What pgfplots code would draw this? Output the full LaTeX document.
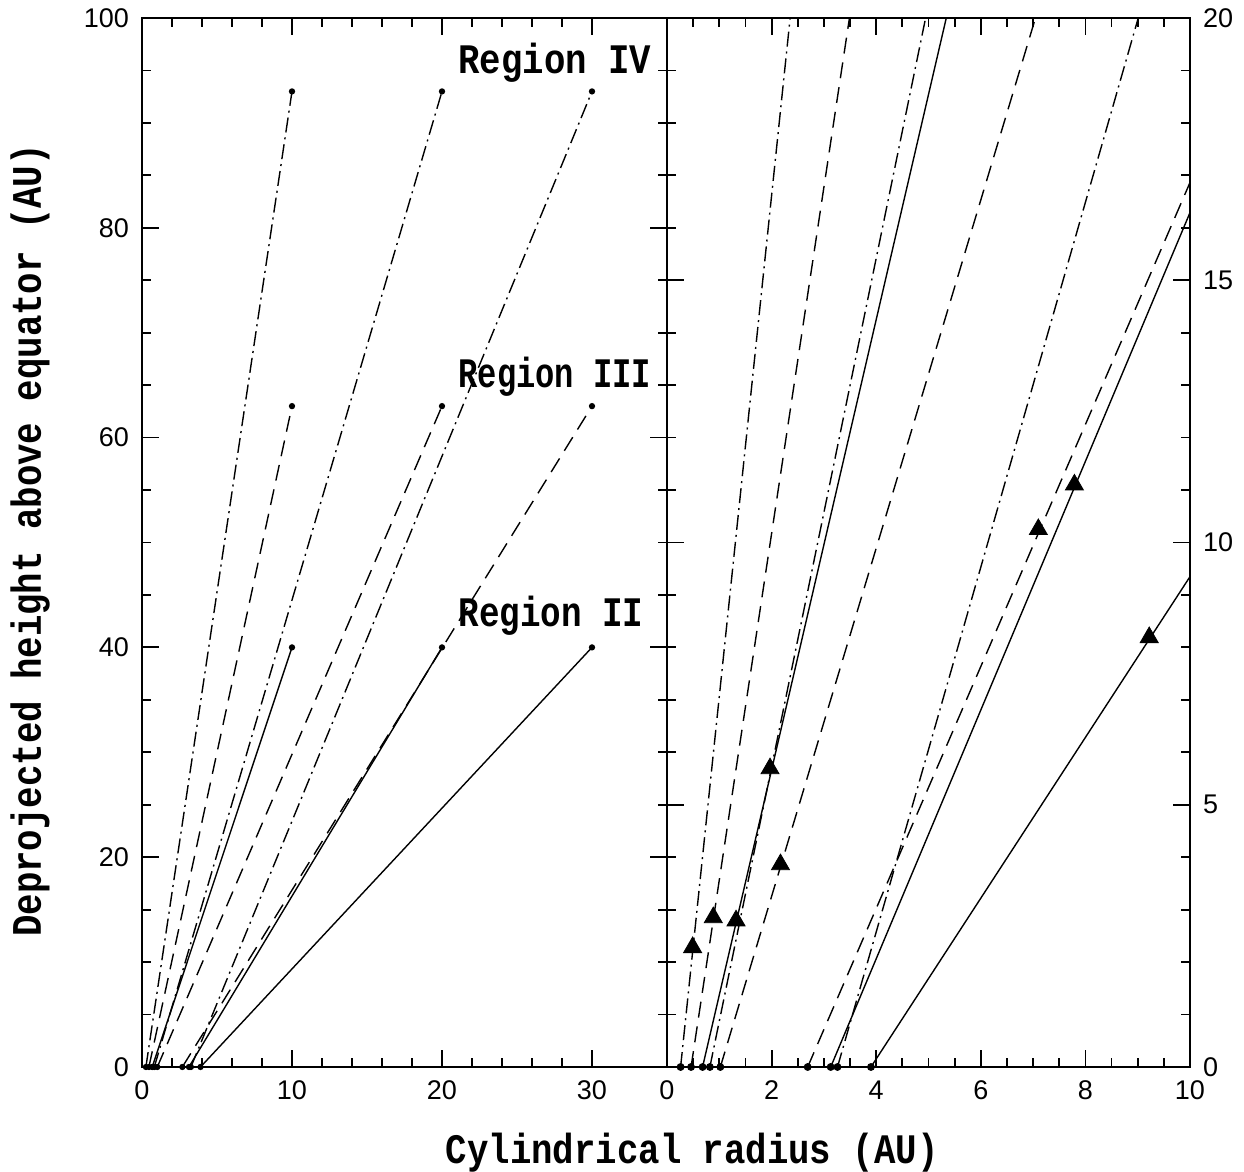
\documentclass[border=0pt]{standalone}
\usepackage{fontspec}
\usepackage{graphicx}
\setmainfont{Liberation Sans}
\newfontfamily\ticklbl{Liberation Sans}
\newfontfamily\lblfont[FakeStretch=0.85]{Liberation Mono}
\usepackage{pgfplots}
\pgfplotsset{compat=1.18}

\tikzset{
  lbl/.style={font=\lblfont\bfseries\fontsize{21}{24}\selectfont},
  dd/.style={black, line width=0.7pt, dash pattern=on 7.5pt off 2.5pt on 1pt off 2.5pt},
  ds/.style={black, line width=0.7pt, dash pattern=on 8pt off 4.5pt},
  sl/.style={black, line width=0.7pt, solid},
}
\pgfplotsset{
  panel/.style={
    scale only axis, height=524.5pt,
    anchor=south west,
    axis line style={line width=1.1pt},
    every tick/.style={line width=0.9pt, black},
    major tick length=8.5pt, minor tick length=4.5pt,
    tick align=inside,
    ymin=0,
    tick label style={font=\ticklbl\fontsize{13.5}{15}\selectfont},
    xticklabel style={yshift=-3.5pt},
    /pgf/number format/assume math mode=true,
  },
}

\begin{document}
\begin{tikzpicture}

% left panel: full view
\begin{axis}[panel, at={(0,0)}, width=262.5pt,
  xmin=0, xmax=35, ymax=100,
  xtick={0,10,20,30}, minor x tick num=4,
  ytick={0,20,...,100}, minor y tick num=3,
  yticklabel style={xshift=-3pt},
  xlabel={Cylindrical radius (AU)},
  ylabel={Deprojected height above equator (AU)},
  xlabel style={lbl, at={(axis description cs:1.048,-0.082)}, anchor=center},
  ylabel style={lbl, at={(axis description cs:-0.213,0.502)}, anchor=center},
  every axis plot/.append style={mark=*, mark size=1.2pt, mark options={solid, fill=black}},
]
\addplot[dd] coordinates {(0.26,0) (10,93)};
\addplot[ds] coordinates {(0.46,0) (10,63)};
\addplot[sl] coordinates {(0.68,0) (10,40)};
\addplot[dd] coordinates {(0.82,0) (20,93)};
\addplot[ds] coordinates {(1.02,0) (20,63)};
\addplot[sl] coordinates {(3.13,0) (20,40)};
\addplot[ds] coordinates {(2.69,0) (30,63)};
\addplot[dd] coordinates {(3.26,0) (30,93)};
\addplot[sl] coordinates {(3.90,0) (30,40)};
\node[lbl, anchor=west, inner sep=0pt] at (axis cs:21.07,95.7) {Region IV};
\node[lbl, anchor=west, inner sep=0pt] at (axis cs:21.07,65.8) {\scalebox{0.9}[1]{Region III}};
\node[lbl, anchor=west, inner sep=0pt] at (axis cs:21.07,43.0) {\scalebox{0.96}[1]{Region II}};
\end{axis}

% right panel: close-up near the equator
\begin{axis}[panel, at={(262.5pt,0)}, width=261.5pt,
  xmin=0, xmax=10, ymax=20,
  xtick={0,2,...,10}, minor x tick num=3,
  ytick={0,5,...,20}, minor y tick num=4,
  yticklabel pos=right,
  yticklabel style={xshift=3pt},
]
\addplot[dd] coordinates {(0.26,0) (10,93)};
\addplot[ds] coordinates {(0.46,0) (10,63)};
\addplot[sl] coordinates {(0.68,0) (10,40)};
\addplot[dd] coordinates {(0.82,0) (20,93)};
\addplot[ds] coordinates {(1.02,0) (20,63)};
\addplot[sl] coordinates {(3.13,0) (20,40)};
\addplot[ds] coordinates {(2.69,0) (30,63)};
\addplot[dd] coordinates {(3.26,0) (30,93)};
\addplot[sl] coordinates {(3.90,0) (30,40)};
\addplot[only marks, mark=*, mark size=1.75pt, fill=black] coordinates {
  (0.26,0) (0.46,0) (0.68,0) (0.82,0) (1.02,0)
  (2.69,0) (3.13,0) (3.26,0) (3.90,0)};
\addplot[only marks, mark=triangle*, mark size=5.2pt, fill=black] coordinates {
  (0.49,2.28) (0.885,2.85) (1.32,2.79) (1.97,5.69) (2.17,3.86)
  (7.10,10.25) (7.79,11.10) (9.22,8.19)};
\end{axis}

\pgfresetboundingbox
\path[use as bounding box] (-71pt,-52.5pt) rectangle (551pt,533.5pt);
\end{tikzpicture}
\end{document}
